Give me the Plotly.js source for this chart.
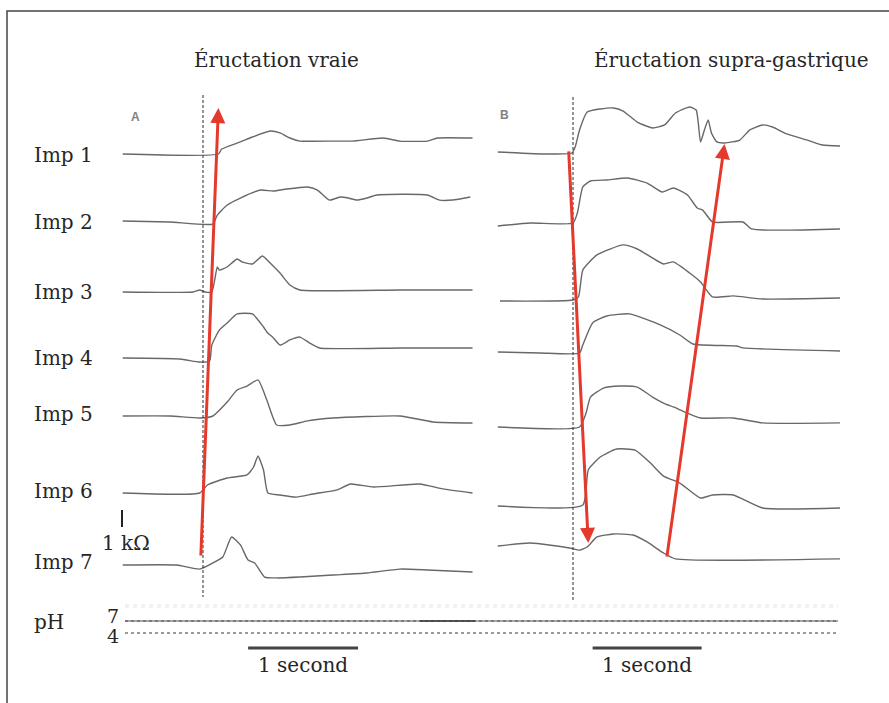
<!DOCTYPE html>
<html>
<head>
<meta charset="utf-8">
<script src="https://cdn.plot.ly/plotly-3.0.1.min.js"></script>
<style>html,body{margin:0;padding:0;background:#fff;}#chart{width:889px;height:703px;}</style>
</head>
<body>
<div id="chart"></div>
<script>
// ---------------- DATA (time in s from onset, impedance change in kΩ) ----------------
const channelLabels = ['Imp 1','Imp 2','Imp 3','Imp 4','Imp 5','Imp 6','Imp 7'];
const panelTitles = ['Éructation vraie','Éructation supra-gastrique'];
const panelLetters = ['A','B'];

// Panel A – true belch
const a1_t = [-0.73,0.14,0.17,0.34,0.45,0.61,0.70,0.79,0.88,1.18,1.36,1.64,1.79,2.04,2.13,2.45];
const a1_v = [0,0,0.29,0.71,1.00,1.35,1.24,0.94,0.76,0.76,0.76,0.94,0.76,0.76,0.94,0.94];
const a2_t = [-0.73,-0.30,0.09,0.13,0.22,0.34,0.52,0.64,0.76,0.95,1.04,1.15,1.25,1.32,1.40,1.49,1.58,2.04,2.15,2.27,2.43];
const a2_v = [0.06,0,-0.12,0.41,1.00,1.41,1.88,1.82,1.94,2.06,1.88,1.29,1.47,1.41,1.29,1.41,1.59,1.59,1.29,1.29,1.47];
const a3_t = [-0.73,-0.09,-0.03,0.02,0.08,0.13,0.15,0.22,0.31,0.36,0.45,0.54,0.61,0.70,0.79,0.88,1.79,2.45];
const a3_v = [0,0,0.12,0,0,1.47,1.29,1.47,1.94,1.76,1.65,2.12,1.71,1.12,0.41,0.12,0.12,0.12];
const a4_t = [-0.73,-0.21,-0.03,0.06,0.08,0.15,0.22,0.31,0.45,0.55,0.58,0.64,0.70,0.79,0.88,0.97,1.06,1.79,2.45];
const a4_v = [0.06,0,-0.18,-0.12,0.82,1.71,2.12,2.65,2.65,1.88,1.59,1.24,0.82,1.12,1.29,0.94,0.65,0.65,0.65];
const a5_t = [-0.73,-0.30,-0.03,0.09,0.22,0.31,0.40,0.50,0.58,0.67,0.79,0.95,1.18,1.79,2.09,2.45];
const a5_v = [0,0,-0.12,0,0.82,1.53,1.76,2.12,0.94,-0.53,-0.53,-0.29,-0.12,0,-0.35,-0.41];
const a6_t = [-0.73,-0.03,0.04,0.22,0.40,0.46,0.50,0.55,0.59,0.70,0.85,1.00,1.22,1.34,1.55,1.97,2.18,2.45];
const a6_v = [0,0,0.47,0.88,1.06,1.53,2.18,1.35,0,-0.12,-0.24,-0.06,0.18,0.53,0.35,0.53,0.24,0];
const a7_t = [-0.73,-0.24,-0.03,0.09,0.18,0.26,0.34,0.41,0.47,0.56,0.67,0.88,1.18,1.49,1.79,2.04,2.45];
const a7_v = [0,0,-0.24,0.12,0.47,1.65,1.18,0.29,0.12,-0.71,-0.76,-0.71,-0.59,-0.47,-0.24,-0.29,-0.41];

// Panel B – supragastric belch
const b1_t = [-0.69,-0.24,-0.01,0.02,0.06,0.13,0.25,0.37,0.46,0.59,0.73,0.84,0.94,1.07,1.13,1.17,1.20,1.24,1.27,1.32,1.39,1.53,1.62,1.74,1.83,1.96,2.15,2.29,2.45];
const b1_v = [0.06,-0.06,0,0.35,1.35,2.41,2.59,2.65,2.47,1.82,1.47,1.65,2.35,2.71,2.53,0.65,1.24,1.94,1.18,0.65,0.59,0.76,1.35,1.65,1.53,1.12,0.76,0.47,0.41];
const b2_t = [-0.69,-0.39,0,0.04,0.09,0.16,0.31,0.50,0.68,0.82,0.92,1.05,1.14,1.19,1.28,1.56,1.64,2.45];
const b2_v = [-0.18,0,0,0.59,2.12,2.47,2.53,2.65,2.35,1.82,2.06,1.65,0.88,0.76,0.06,0.06,-0.35,-0.35];
const b3_t = [-0.67,0,0.05,0.09,0.22,0.46,0.59,0.83,0.92,1.07,1.17,1.28,1.47,1.74,2.45];
const b3_v = [-0.06,0,0.18,1.76,2.65,3.24,3.00,2.12,2.24,1.59,1.06,0.18,0.24,0.06,0.12];
const b4_t = [-0.69,-0.30,0.06,0.09,0.18,0.31,0.52,0.80,0.98,1.10,1.50,1.56,2.45];
const b4_v = [0,-0.06,-0.06,0.41,1.71,2.12,2.24,1.59,1.00,0.47,0.35,0.24,0.06];
const b5_t = [-0.69,0.06,0.12,0.16,0.28,0.43,0.59,0.73,0.83,0.92,1.05,1.17,1.47,1.74,2.45];
const b5_v = [0,0,0.82,1.76,2.29,2.41,2.35,1.76,1.41,1.18,0.82,0.53,0.53,0.24,0.24];
const b6_t = [-0.69,0.09,0.14,0.25,0.40,0.57,0.71,0.83,0.98,1.17,1.28,1.47,1.74,2.45];
const b6_v = [0,0.06,2.12,2.88,3.35,3.29,2.53,1.76,1.35,0.47,0.65,0.65,-0.12,-0.12];
const b7_t = [-0.69,-0.39,-0.03,0.06,0.13,0.22,0.37,0.55,0.68,0.83,0.94,2.45];
const b7_v = [0,0.18,-0.12,-0.24,-0.06,0.53,0.71,0.65,0.24,-0.41,-0.76,-0.76];

// Red arrows (bolus movement): panel, start time / channel / kΩ, end time / channel / kΩ
const arrowPanel   = ['A','B','B'];
const arrowFromT   = [-0.02,-0.04,0.86];
const arrowFromImp = [7,1,7];
const arrowFromK   = [0.47,0.18,-0.71];
const arrowToT     = [0.14,0.14,1.39];
const arrowToImp   = [1,7,1];
const arrowToK     = [2.7,0.18,0.53];

const scaleBarLabel = '1 kΩ';
const timeBarLabel = '1 second';
const phLabels = ['pH','7','4'];

// ---------------- LAYOUT (positions, sizes, styles) ----------------
const W = 889, H = 703;
const PX_PER_KOHM = 17;
const panelGeom = {
  A: {left: 120, right: 475, zero: 203, pxPerSec: 110},
  B: {left: 495, right: 843, zero: 573, pxPerSec: 109}
};
const baseA = [154,222,292,359,416,493,565];   // baseline pixel of each channel
const baseB = [153,223,300,352,427,506,546];
const labelY = [155,222,292,358,414,491,562];

const px = p => p / W;
const py = p => 1 - p / H;
const yOfPx = p => -p / PX_PER_KOHM;            // y-axis in kΩ
function axisRange(g){ return [(g.left-g.zero)/g.pxPerSec, (g.right-g.zero)/g.pxPerSec]; }

const seriesA = [[a1_t,a1_v],[a2_t,a2_v],[a3_t,a3_v],[a4_t,a4_v],[a5_t,a5_v],[a6_t,a6_v],[a7_t,a7_v]];
const seriesB = [[b1_t,b1_v],[b2_t,b2_v],[b3_t,b3_v],[b4_t,b4_v],[b5_t,b5_v],[b6_t,b6_v],[b7_t,b7_v]];

const traceColor = '#686868';
const traces = [];
function addPanel(series, bases, xa){
  series.forEach((s,i)=>{
    const off = yOfPx(bases[i]);
    traces.push({type:'scatter', mode:'lines', xaxis:xa, yaxis:'y', x:s[0], y:s[1].map(v=>off+v),
      line:{color:traceColor, width:1.4, shape:'spline', smoothing:0.5}, hoverinfo:'skip', showlegend:false});
  });
}
addPanel(seriesA, baseA, 'x');
addPanel(seriesB, baseB, 'x2');

const serif = 'DejaVu Serif, Liberation Serif, serif';
const txtCol = '#262626';
const annotations = [];
// titles
annotations.push({text:panelTitles[0], x:px(276), y:py(60), xref:'paper', yref:'paper', showarrow:false, xanchor:'center', yanchor:'middle', font:{family:serif, size:20, color:txtCol}});
annotations.push({text:panelTitles[1], x:px(731), y:py(60), xref:'paper', yref:'paper', showarrow:false, xanchor:'center', yanchor:'middle', font:{family:serif, size:20, color:txtCol}});
// panel letters
annotations.push({text:'<b>'+panelLetters[0]+'</b>', x:px(129), y:py(108), xref:'paper', yref:'paper', showarrow:false, font:{family:'Liberation Sans, Arial', size:12, color:'#808080'}});
annotations.push({text:'<b>'+panelLetters[1]+'</b>', x:px(505), y:py(106), xref:'paper', yref:'paper', showarrow:false, font:{family:'Liberation Sans, Arial', size:12, color:'#808080'}});
// channel labels
channelLabels.forEach((t,i)=>annotations.push({text:t, x:px(32), y:py(labelY[i]), xref:'paper', yref:'paper', showarrow:false, xanchor:'left', yanchor:'middle', font:{family:serif, size:20, color:txtCol}}));
// scale
annotations.push({text:scaleBarLabel, x:px(100), y:py(543), xref:'paper', yref:'paper', showarrow:false, xanchor:'left', yanchor:'middle', font:{family:serif, size:20, color:txtCol}});
// pH
annotations.push({text:phLabels[0], x:px(32), y:py(622), xref:'paper', yref:'paper', showarrow:false, xanchor:'left', yanchor:'middle', font:{family:serif, size:20, color:txtCol}});
annotations.push({text:phLabels[1], x:px(113), y:py(616), xref:'paper', yref:'paper', showarrow:false, xanchor:'center', yanchor:'middle', font:{family:serif, size:19, color:txtCol}});
annotations.push({text:phLabels[2], x:px(113), y:py(636), xref:'paper', yref:'paper', showarrow:false, xanchor:'center', yanchor:'middle', font:{family:serif, size:19, color:txtCol}});
// time bars labels
const barStart = {A:0.41, B:0.18};
annotations.push({text:timeBarLabel, x:barStart.A+0.5, xref:'x', y:py(665), yref:'paper', showarrow:false, xanchor:'center', yanchor:'middle', font:{family:serif, size:20, color:txtCol}});
annotations.push({text:timeBarLabel, x:barStart.B+0.5, xref:'x2', y:py(665), yref:'paper', showarrow:false, xanchor:'center', yanchor:'middle', font:{family:serif, size:20, color:txtCol}});
// red arrows
arrowPanel.forEach((p,i)=>{
  const bases = p==='A'?baseA:baseB; const xr = p==='A'?'x':'x2';
  annotations.push({x:arrowToT[i], y:yOfPx(bases[arrowToImp[i]-1])+arrowToK[i], xref:xr, yref:'y',
    ax:arrowFromT[i], ay:yOfPx(bases[arrowFromImp[i]-1])+arrowFromK[i], axref:xr, ayref:'y',
    showarrow:true, arrowhead:2, arrowsize:1.0, arrowwidth:3, arrowcolor:'#e4392b', standoff:0, text:''});
});

const shapes = [];
// frame (open to right and bottom)
shapes.push({type:'path', xref:'paper', yref:'paper', path:`M ${px(7)} 0 L ${px(7)} ${py(11)} L 1.01 ${py(11)}`, line:{color:'#444', width:1.5}});
// onset dashed lines
shapes.push({type:'line', xref:'x', yref:'y', x0:0, x1:0, y0:yOfPx(95), y1:yOfPx(597), line:{color:'#2a2a2a', width:1, dash:'3px,2px'}});
shapes.push({type:'line', xref:'x2', yref:'y', x0:0, x1:0, y0:yOfPx(97), y1:yOfPx(600), line:{color:'#2a2a2a', width:1, dash:'3px,2px'}});
// 1 kΩ scale bar
shapes.push({type:'line', xref:'paper', yref:'y', x0:px(122), x1:px(122), y0:yOfPx(527), y1:yOfPx(527)+1, line:{color:'#222', width:2}});
// pH traces
shapes.push({type:'line', xref:'paper', yref:'paper', x0:px(125), x1:px(838), y0:py(606), y1:py(606), line:{color:'#f1f1f1', width:4, dash:'dot'}});
shapes.push({type:'line', xref:'paper', yref:'paper', x0:px(125), x1:px(838), y0:py(621), y1:py(621), line:{color:'#a8a8a8', width:2.2}});
shapes.push({type:'line', xref:'paper', yref:'paper', x0:px(125), x1:px(838), y0:py(621), y1:py(621), line:{color:'#6a6a6a', width:1.6, dash:'dot'}});
shapes.push({type:'line', xref:'paper', yref:'paper', x0:px(420), x1:px(475), y0:py(621), y1:py(621), line:{color:'#3a3a3a', width:1.6}});
shapes.push({type:'line', xref:'paper', yref:'paper', x0:px(125), x1:px(838), y0:py(633), y1:py(633), line:{color:'#7a7a7a', width:1.6, dash:'dot'}});
// 1 second bars
shapes.push({type:'line', xref:'x', yref:'paper', x0:barStart.A, x1:barStart.A+1, y0:py(648), y1:py(648), line:{color:'#444', width:3}});
shapes.push({type:'line', xref:'x2', yref:'paper', x0:barStart.B, x1:barStart.B+1, y0:py(648), y1:py(648), line:{color:'#444', width:3}});

const hidden = {visible:false, showgrid:false, zeroline:false, fixedrange:true};
const layout = {
  width:W, height:H, margin:{l:0,r:0,t:0,b:0},
  paper_bgcolor:'#fff', plot_bgcolor:'rgba(0,0,0,0)', showlegend:false,
  xaxis: Object.assign({domain:[px(panelGeom.A.left), px(panelGeom.A.right)], range:axisRange(panelGeom.A), anchor:'y'}, hidden),
  xaxis2: Object.assign({domain:[px(panelGeom.B.left), px(panelGeom.B.right)], range:axisRange(panelGeom.B), anchor:'y'}, hidden),
  yaxis: Object.assign({domain:[0,1], range:[-H/PX_PER_KOHM, 0]}, hidden),
  annotations, shapes
};
Plotly.newPlot('chart', traces, layout, {staticPlot:true, displayModeBar:false});
</script>
</body>
</html>
